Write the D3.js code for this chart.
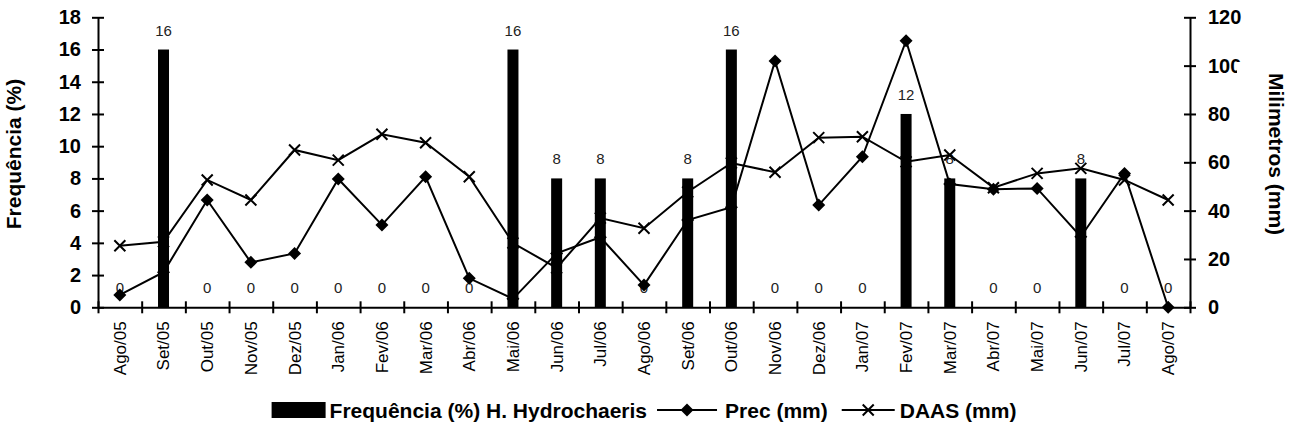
<!DOCTYPE html>
<html>
<head>
<meta charset="utf-8">
<script src="https://cdn.jsdelivr.net/npm/d3@7"></script>
<style>
  html, body { margin: 0; padding: 0; background: #fff; }
  svg { display: block; font-family: Arial, "Liberation Sans", sans-serif; }
</style>
</head>
<body>
<svg id="chart" width="1293" height="446"></svg>
<script>
const categories = ["Ago/05","Set/05","Out/05","Nov/05","Dez/05","Jan/06","Fev/06","Mar/06","Abr/06","Mai/06","Jun/06","Jul/06","Ago/06","Set/06","Out/06","Nov/06","Dez/06","Jan/07","Fev/07","Mar/07","Abr/07","Mai/07","Jun/07","Jul/07","Ago/07"];
const frequencia = [0,16,0,0,0,0,0,0,0,16,8,8,0,8,16,0,0,0,12,8,0,0,8,0,0];
const prec = [5.1,14.5,44.4,18.6,22.3,53.1,34.1,54.0,12.0,3.5,22.3,29.0,9.2,36.1,41.4,101.9,42.3,62.3,110.3,51.0,48.8,49.2,29.2,55.4,0];
const daas = [25.5,27.1,52.7,44.4,65.1,60.9,71.6,68.1,54.0,26.6,16.3,36.9,32.7,47.7,59.7,55.9,70.2,70.6,60.2,63.0,49.5,55.4,57.5,52.7,44.4];
const leftTicks = [0,2,4,6,8,10,12,14,16,18];
const rightTicks = [0,20,40,60,80,100,120];
const leftTitle = "Frequência (%)";
const rightTitle = "Milimetros (mm)";
const legendLabels = ["Frequência (%) H. Hydrochaeris", "Prec (mm)", "DAAS (mm)"];

(function () {
const svg = d3.select("#chart");
const pLeft = 98, pRight = 1190, pTop = 17.3, pBottom = 307.3;

const x = d3.scaleBand().domain(categories).range([pLeft, pRight]);
const xi = d3.scaleLinear().domain([0, categories.length]).range([pLeft, pRight]);
const yL = d3.scaleLinear().domain([0, 18]).range([pBottom, pTop]);
const yR = d3.scaleLinear().domain([0, 120]).range([pBottom, pTop]);
const cx = d => x(d) + x.bandwidth() / 2;
const FONT = "Arial, 'Liberation Sans', sans-serif";

// Bars
const barW = 11;
svg.append("g").selectAll("rect").data(categories).join("rect")
  .attr("x", (d) => cx(d) - barW / 2)
  .attr("y", (d, i) => yL(frequencia[i]))
  .attr("width", barW)
  .attr("height", (d, i) => pBottom - yL(frequencia[i]))
  .attr("fill", "#000");

// Bar labels
svg.append("g").selectAll("text").data(categories).join("text")
  .attr("x", d => cx(d))
  .attr("y", (d, i) => yL(frequencia[i]) - 14)
  .attr("text-anchor", "middle")
  .attr("font-size", 15)
  .attr("fill", "#222")
  .text((d, i) => frequencia[i]);

// Axes
const axisStyle = g => {
  g.select(".domain").attr("stroke", "#000").attr("stroke-width", 2);
  g.selectAll(".tick line").attr("stroke", "#000").attr("stroke-width", 2);
};

const gL = svg.append("g").attr("transform", `translate(${pLeft},0)`)
  .call(d3.axisLeft(yL).tickValues(leftTicks).tickSize(6).tickSizeOuter(0).tickPadding(11))
  .call(axisStyle);
gL.selectAll(".tick line").attr("x1", 6);
gL.selectAll(".tick text").attr("font-size", 20).attr("font-weight", "bold").attr("fill", "#000")
  .attr("font-family", FONT);

const gR = svg.append("g").attr("transform", `translate(${pRight},0)`)
  .call(d3.axisRight(yR).tickValues(rightTicks).tickSize(6).tickSizeOuter(0).tickPadding(12))
  .call(axisStyle);
gR.selectAll(".tick line").attr("x1", -6);
gR.selectAll(".tick text").attr("font-size", 20).attr("font-weight", "bold").attr("fill", "#000")
  .attr("font-family", FONT);

// X axis boundary ticks
const gX = svg.append("g").attr("transform", `translate(0,${pBottom})`)
  .call(d3.axisBottom(xi).tickValues(d3.range(categories.length + 1)).tickSize(6).tickSizeOuter(0).tickFormat(""))
  .call(axisStyle);
gX.selectAll(".tick line").attr("y1", -6);

// X labels
const gXL = svg.append("g").attr("transform", `translate(0,${pBottom})`)
  .call(d3.axisBottom(x).tickSize(0).tickSizeOuter(0));
gXL.select(".domain").remove();
gXL.selectAll(".tick text")
  .attr("transform", "rotate(-90)")
  .attr("x", -14).attr("y", 0).attr("dy", "0.35em")
  .attr("text-anchor", "end")
  .attr("font-size", 17).attr("fill", "#000")
  .attr("font-family", FONT);

// Lines
const line = (arr) => d3.line().x((d, i) => cx(categories[i])).y(d => yR(d))(arr);
svg.append("path").attr("d", line(prec)).attr("fill", "none").attr("stroke", "#000").attr("stroke-width", 2);
svg.append("path").attr("d", line(daas)).attr("fill", "none").attr("stroke", "#000").attr("stroke-width", 2);

const diamond = "M0,-6.5L6.5,0L0,6.5L-6.5,0Z";
const cross = "M-5.5,-5.5L5.5,5.5M-5.5,5.5L5.5,-5.5";
svg.append("g").selectAll("path").data(prec).join("path")
  .attr("transform", (d, i) => `translate(${cx(categories[i])},${yR(d)})`)
  .attr("d", diamond).attr("fill", "#000");
svg.append("g").selectAll("path").data(daas).join("path")
  .attr("transform", (d, i) => `translate(${cx(categories[i])},${yR(d)})`)
  .attr("d", cross).attr("fill", "none").attr("stroke", "#000").attr("stroke-width", 2);

// Titles
svg.append("text")
  .attr("transform", `translate(21,154) rotate(-90)`)
  .attr("text-anchor", "middle").attr("font-size", 21).attr("font-weight", "bold")
  .text(leftTitle);
// right title box (white fill, overlaps the "100" label as in the original)
svg.append("rect").attr("x", 1237).attr("y", 62).attr("width", 50).attr("height", 184).attr("fill", "#fff");
svg.append("text")
  .attr("transform", `translate(1269,154) rotate(90)`)
  .attr("text-anchor", "middle").attr("font-size", 21).attr("font-weight", "bold")
  .text(rightTitle);

// Legend
const lg = svg.append("g");
const ly = 410;
const fs = 21;
let cur = 0;
lg.append("rect").attr("x", cur).attr("y", ly - 8).attr("width", 54).attr("height", 16).attr("fill", "#000");
cur += 58;
let t = lg.append("text").attr("x", cur).attr("y", ly).attr("dy", "0.36em").attr("font-size", fs).attr("font-weight", "bold").text(legendLabels[0]);
cur += t.node().getComputedTextLength() + 10;
lg.append("line").attr("x1", cur).attr("x2", cur + 60).attr("y1", ly).attr("y2", ly).attr("stroke", "#000").attr("stroke-width", 2);
lg.append("path").attr("transform", `translate(${cur + 30},${ly})`).attr("d", diamond).attr("fill", "#000");
cur += 68;
t = lg.append("text").attr("x", cur).attr("y", ly).attr("dy", "0.36em").attr("font-size", fs).attr("font-weight", "bold").text(legendLabels[1]);
cur += t.node().getComputedTextLength() + 14;
lg.append("line").attr("x1", cur).attr("x2", cur + 53).attr("y1", ly).attr("y2", ly).attr("stroke", "#000").attr("stroke-width", 2);
lg.append("path").attr("transform", `translate(${cur + 26.5},${ly})`).attr("d", cross).attr("fill", "none").attr("stroke", "#000").attr("stroke-width", 2);
cur += 58;
t = lg.append("text").attr("x", cur).attr("y", ly).attr("dy", "0.36em").attr("font-size", fs).attr("font-weight", "bold").text(legendLabels[2]);
cur += t.node().getComputedTextLength();
lg.attr("transform", `translate(${644 - cur / 2},0)`);
})();
</script>
</body>
</html>
